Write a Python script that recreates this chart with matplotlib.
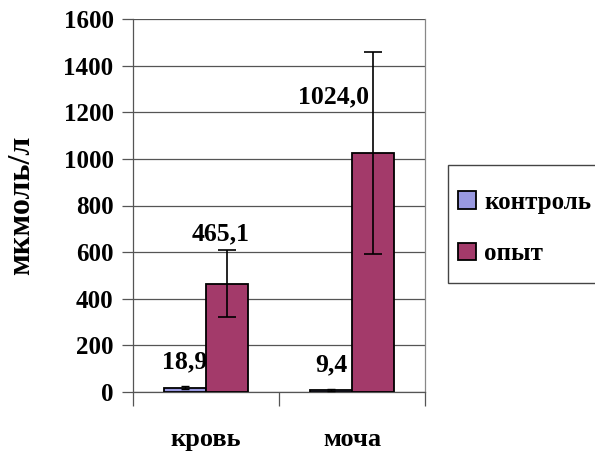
import matplotlib
matplotlib.use("Agg")
import matplotlib.pyplot as plt
from matplotlib.patches import Rectangle
import numpy as np

categories = ["кровь", "моча"]
series_names = ["контроль", "опыт"]
control = [18.9, 9.4]
control_err = [5, 3]
experiment = [465.1, 1024.0]
experiment_err = [145, 433]
control_labels = ["18,9", "9,4"]
experiment_labels = ["465,1", "1024,0"]
yticks = [0, 200, 400, 600, 800, 1000, 1200, 1400, 1600]

FONT = ["Liberation Serif", "DejaVu Serif"]
plt.rcParams['font.family'] = FONT
plt.rcParams['font.weight'] = 'bold'

W, H = 595, 457
fig = plt.figure(figsize=(W/100, H/100), dpi=100)
ax = fig.add_axes([133/W, 1-392/H, (425-133)/W, (392-19)/H])

x = np.arange(len(categories))
w = 0.286
c1 = "#9999E0"
c2 = "#A33A6A"
b1 = ax.bar(x - w/2, control, w, color=c1, edgecolor="black", linewidth=1.3,
            yerr=control_err, capsize=3, error_kw=dict(elinewidth=1.0, capthick=1.0, ecolor="black"),
            label=series_names[0], zorder=3)
b2 = ax.bar(x + w/2, experiment, w, color=c2, edgecolor="black", linewidth=1.3,
            yerr=experiment_err, capsize=6.5, error_kw=dict(elinewidth=1.2, capthick=1.2, ecolor="black"),
            label=series_names[1], zorder=3)

# data labels (layout offsets)
ctrl_dy = [110, 107]
exp_dx = [-0.04, -0.27]
exp_dy = [215, 241]
for i in range(len(categories)):
    ax.text(x[i] - w/2, control[i] + ctrl_dy[i], control_labels[i], ha="center", va="center",
            fontsize=18.5, fontweight="bold", zorder=4)
    ax.text(x[i] + w/2 + exp_dx[i], experiment[i] + exp_dy[i], experiment_labels[i], ha="center",
            va="center", fontsize=18.5, fontweight="bold", zorder=4)

ax.set_xlim(-0.5, 1.5)
ax.set_ylim(0, 1600)
ax.set_yticks(yticks)
ax.set_yticklabels([str(t) for t in yticks], fontsize=18, fontweight="bold")
ax.yaxis.grid(True, color="#555555", linewidth=0.9, zorder=0)
ax.set_axisbelow(True)
ax.tick_params(axis="y", length=8, width=0.9, color="#555555", pad=6)

ax.set_xticks(x)
ax.set_xticklabels(categories, fontsize=19, fontweight="bold")
ax.tick_params(axis="x", which="major", length=0, pad=26)
ax.set_xticks([-0.5, 0.5, 1.5], minor=True)
ax.tick_params(axis="x", which="minor", length=10, width=0.9, color="#555555")

ax.spines["top"].set_visible(False)
ax.spines["right"].set_color("#888888")
ax.spines["left"].set_color("#555555")
ax.spines["bottom"].set_color("#555555")
for s in ax.spines.values():
    s.set_linewidth(0.9)

ax.set_ylabel("мкмоль/л", fontsize=23, fontweight="bold", labelpad=20)

# legend frame drawn separately
frame = Rectangle((448/W, 1-283/H), (600-448)/W, (283-165)/H, transform=fig.transFigure,
                  facecolor="white", edgecolor="#444444", linewidth=1.0, zorder=1)
fig.patches.append(frame)
leg = fig.legend(handles=[b1, b2], labels=series_names, loc="center left",
                 bbox_to_anchor=(453/W, 1-228/H), frameon=False,
                 prop=dict(family=FONT, size=18, weight="bold"),
                 handlelength=0.7, handleheight=0.7, handletextpad=0.35,
                 labelspacing=1.15, borderpad=0.2, borderaxespad=0)

fig.savefig("out.png", dpi=100)
